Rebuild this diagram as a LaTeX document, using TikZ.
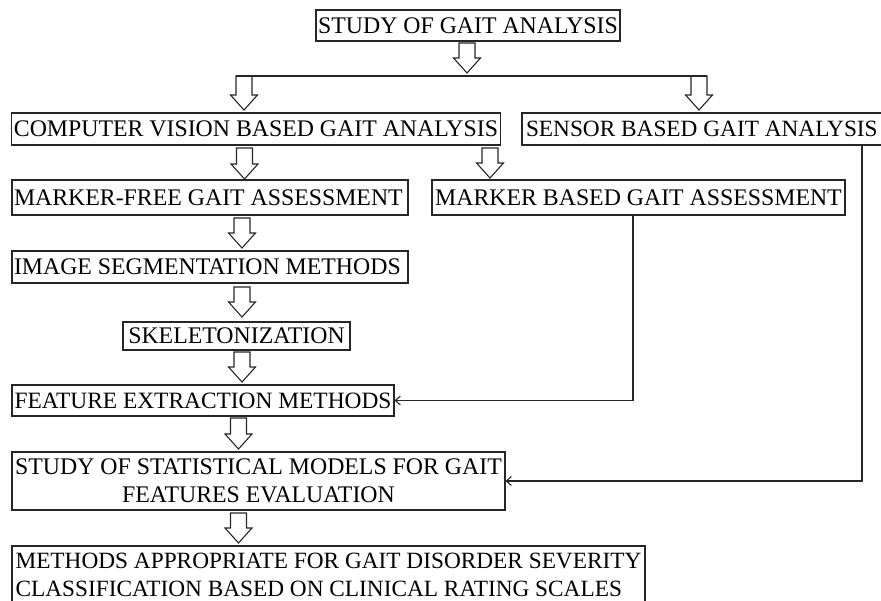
\documentclass[tikz,border=0pt]{standalone}
\usepackage{fontspec}
\setmainfont{Liberation Serif}
\usetikzlibrary{arrows.meta}
\begin{document}
\begin{tikzpicture}[x=1pt,y=-1pt,
 box/.style={draw=black!85,line width=1.1pt,rectangle,inner xsep=2pt,inner ysep=0pt,minimum height=31pt,font=\fontsize{23.8}{27.5}\selectfont},
 arrowbody/.style={draw=black!85,line width=1.1pt,line join=miter},
 link/.style={draw=black!85,line width=1.1pt,-{Straight Barb[length=5pt,width=9pt]}},
 pics/barrow/.style={code={\draw[arrowbody] (-8,0) -- (-8,#1-15) -- (-13.5,#1-15) -- (0,#1) -- (13.5,#1-15) -- (8,#1-15) -- (8,0) -- cycle;}}]
\useasboundingbox (0,0) rectangle (881,600);
% boxes
\node[box,minimum width=304pt] (b1) at (468,25.5) {STUDY OF GAIT ANALYSIS};
\node[box,minimum width=488pt,minimum height=32pt] (cv) at (256,129) {COMPUTER VISION BASED GAIT ANALYSIS};
\node[box,minimum height=32pt,inner xsep=4pt,font=\fontsize{23.3}{27.5}\selectfont] (sn) at (708.5,129) {\makebox[365pt][l]{SENSOR BASED GAIT ANALYSIS}};
\node[box,minimum height=35pt] (mf) at (210,197.5) {\makebox[392pt][l]{MARKER-FREE GAIT ASSESSMENT}};
\node[box,minimum width=413pt,minimum height=35pt] (mb) at (638.5,197.5) {MARKER BASED GAIT ASSESSMENT};
\node[box,minimum height=32pt] (is) at (210,267) {\makebox[392pt][l]{IMAGE SEGMENTATION METHODS}};
\node[box,minimum width=227pt,minimum height=28pt] (sk) at (236.5,336) {SKELETONIZATION};
\node[box,minimum width=382pt,minimum height=31pt,font=\fontsize{23.4}{27.5}\selectfont] (fe) at (203,400.5) {FEATURE EXTRACTION METHODS};
\node[box,minimum width=493pt,minimum height=58pt,align=center] (st) at (258.5,481) {STUDY OF STATISTICAL MODELS FOR GAIT\\FEATURES EVALUATION};
\node[box,minimum width=633pt,minimum height=57pt,align=left,font=\fontsize{23.3}{28}\selectfont] (me) at (328.5,574.5) {METHODS APPROPRIATE FOR GAIT DISORDER SEVERITY\\CLASSIFICATION BASED ON CLINICAL RATING SCALES};
% hollow block arrows (tail point, length)
\pic at (467,43) {barrow=30};
\pic at (244,76) {barrow=34};
\pic at (699,76) {barrow=34};
\pic at (244.5,148) {barrow=31};
\pic at (490,148) {barrow=30};
\pic at (242,218) {barrow=30};
\pic at (242,287) {barrow=30};
\pic at (242,352) {barrow=30};
\pic at (238.5,418) {barrow=31};
\pic at (238.5,513) {barrow=30};
% split line
\coordinate (sl) at (236,76);
\coordinate (sr) at (707,76);
\draw[arrowbody] (sl) -- (sr);
% thin connectors
\draw[link] ([xshift=-5.5pt]mb.south) |- (fe.east);
\draw[link] ([xshift=153.5pt]sn.south) |- (st.east);
\end{tikzpicture}
\end{document}
